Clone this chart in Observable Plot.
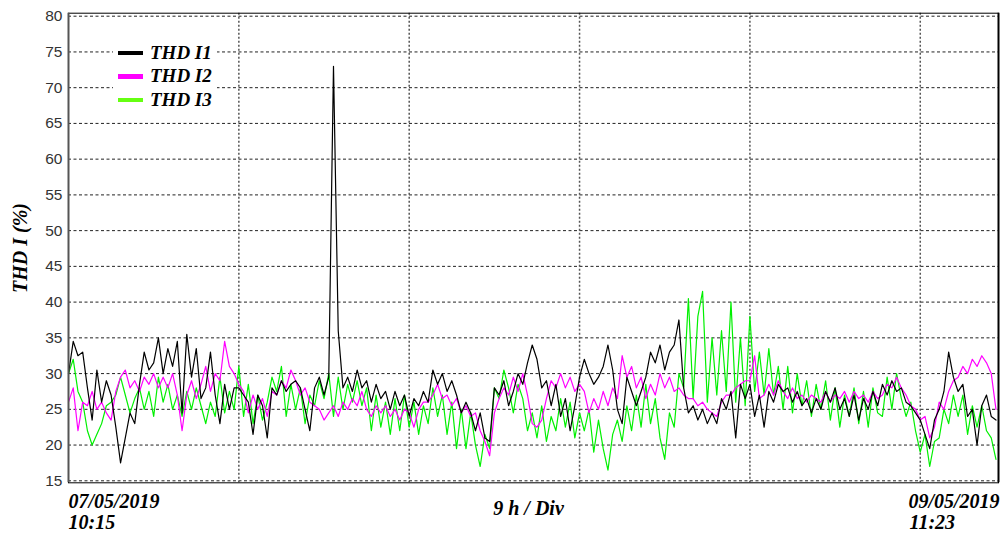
<!DOCTYPE html>
<html>
<head>
<meta charset="utf-8">
<script src="https://cdn.jsdelivr.net/npm/d3@7"></script>
<script src="https://cdn.jsdelivr.net/npm/@observablehq/plot@0.6"></script>
<style>
  html, body { margin: 0; padding: 0; background: #fff; }
  #wrap { position: relative; width: 1001px; height: 533px; }
  #legend { position: absolute; left: 113px; top: 41px; width: 104px; background: #fff; }
  #legend .row { height: 23.5px; display: flex; align-items: center; }
  #legend .sw { width: 25px; height: 4.5px; margin-left: 5px; margin-right: 7px; }
  #legend .lb { font-family: "Liberation Serif", "Times New Roman", serif; font-weight: bold; font-style: italic; font-size: 19px; color: #000; }
</style>
</head>
<body>
<div id="wrap"><div id="legend"></div></div>
<script>
// Recording: 07/05/2019 10:15 -> 09/05/2019 11:23, one sample every 15 min
const startTime = Date.UTC(2019, 4, 7, 10, 15);
const endTime = Date.UTC(2019, 4, 9, 11, 23);
const sampleMinutes = 15;
const divHours = 9;
const yTicks = [15, 20, 25, 30, 35, 40, 45, 50, 55, 60, 65, 70, 75, 80];

const seriesNames = ["THD I1", "THD I2", "THD I3"];
const seriesColors = ["#000000", "#ff00ff", "#00f000"];
const legendColors = ["#000000", "#ff00ff", "#66ff11"];

// THD I1 (%)
const thdI1 = [
  30, 34.5, 32.5, 33,   28, 23.5, 30.5, 26,   29, 27, 22.5, 17.5,   21, 24.5, 23, 28.5,
  33, 30.5, 31.5, 35,   30, 33.5, 31, 34.5,   24.5, 35.5, 29.5, 33.5,   26.5, 28, 33, 27,
  23, 28.5, 25, 28,   28, 27, 26, 21.5,   27, 25.5, 21, 28,   27, 29, 27.5, 28.5,
  29, 28, 25, 22,   28, 29.5, 27, 29.5,   73, 36, 28, 29.5,   27.5, 30.5, 28, 29,
  26, 28.5, 26.5, 27.5,   25, 27.5, 25.5, 27,   24, 26.5, 25.5, 27.5,   26, 30.5, 28.5, 30,
  27.5, 29, 27, 24.5,   26, 24.5, 22, 24.5,   21, 20.5, 28, 27,   29, 25.5, 27.5, 30,
  28.5, 31.5, 34, 32,   28, 29, 25.5, 28.5,   24, 26.5, 22, 25.5,   29.5, 32, 30, 28.5,
  29.5, 31, 34, 30.5,   25, 23, 29.5, 27.5,   25.5, 27.5, 29.5, 33,   31.5, 34, 30.5, 33,
  34, 37.5, 28, 24.5,   25.5, 23.5, 25, 23,   24.5, 23, 26.5, 25,   27.5, 21, 28.5, 26.5,
  28.5, 24, 27, 22.5,   27.5, 26, 28.5, 27.5,   28, 26, 27.5, 25.5,   26.5, 24.5, 26.5, 25,
  27.5, 26, 28, 25,   26.5, 24, 27, 23.5,   26.5, 25, 27.5, 25.5,   28.5, 27, 29, 27.5,
  28, 26, 25.5, 24.5,   23.5, 21.5, 19.5, 23.5,   25, 27.5, 33, 29.5,   27.5, 28.5, 24, 25,
  20, 25.5, 27, 24,   23.5
];

// THD I2 (%)
const thdI2 = [
  26, 28, 22, 26,   25.5, 27.5, 25, 26,   24.5, 23.5, 27.5, 29.5,   30.5, 28, 29, 27.5,
  29.5, 28.5, 30, 28,   29.5, 28, 30, 27,   22, 27, 29, 26.5,   28.5, 31, 27.5, 30,
  29, 34.5, 31, 30,   28.5, 27.5, 24.5, 27,   25, 26.5, 24, 27.5,   27, 29, 28, 30.5,
  29, 27, 28, 26,   25.5, 25, 23.5, 24.5,   25.5, 24, 26, 25,   26.5, 25.5, 27.5, 25,
  24, 25.5, 24.5, 25.5,   24, 25, 23.5, 25,   24.5, 22.5, 25, 26,   26, 27, 28.5, 26.5,
  27, 25.5, 26.5, 24.5,   25.5, 24, 24.5, 22,   20.5, 18.5, 24.5, 26.5,   28, 27, 29.5, 27.5,
  30, 27, 23, 22.5,   23.5, 26.5, 29, 28,   30, 28, 29.5, 27.5,   28.5, 27.5, 24.5, 26.5,
  25, 27.5, 25.5, 28,   26.5, 32.5, 29.5, 31,   28, 29.5, 26.5, 28.5,   27, 30, 28, 29.5,
  27.5, 28, 27, 26.5,   26.5, 25.5, 26, 25,   24.5, 24, 26, 27,   27, 28, 28.5, 29,
  29, 32.5, 26.5, 27,   28.5, 27, 29, 27.5,   26.5, 28, 26.5, 27,   26, 27, 26.5, 26,
  27.5, 26, 27, 26.5,   27.5, 26, 27.5, 26.5,   27, 26, 27.5, 26.5,   27, 28.5, 28, 29.5,
  28, 27, 25.5, 25,   23.5, 24, 21, 22.5,   26, 25, 27.5, 29,   29.5, 31, 30, 32,
  31, 32.5, 31.5, 30,   25
];

// THD I3 (%)
const thdI3 = [
  30, 32, 27.5, 26,   22, 20, 21.5, 23,   25.5, 26, 27, 29.5,   27, 24.5, 26.5, 28,
  25, 27.5, 24, 29.5,   26, 28.5, 25, 27,   24, 27.5, 25, 28,   25.5, 23, 26, 24,
  29.5, 24.5, 27.5, 25,   31, 24, 28.5, 23,   27, 23.5, 26, 29.5,   27.5, 31, 24, 28.5,
  25, 28, 23, 27,   25.5, 29, 26.5, 30,   24, 29.5, 25, 28.5,   26, 29, 25.5, 28,
  22, 27, 22.5, 26,   21.5, 26.5, 22, 27,   22.5, 26, 21.5, 25.5,   23, 28, 24, 27,
  21.5, 26, 19.5, 25,   19.5, 24.5, 20, 17,   21.5, 19.5, 28, 26.5,   30.5, 28, 24.5, 28.5,
  26.5, 22, 24.5, 21,   25.5, 20.5, 24, 22,   26.5, 22.5, 26, 21,   24.5, 22, 25, 19,
  23.5, 19.5, 16.5, 21.5,   23.5, 20.5, 25.5, 22,   27, 22.5, 28.5, 23,   26.5, 21, 18, 24.5,
  22.5, 30, 28, 40.5,   26.5, 38, 41.5, 26,   35, 27, 36, 27.5,   40, 26, 35, 25.5,
  38, 27.5, 33, 27,   33.5, 27, 31, 25,   31, 24.5, 30, 25.5,   29, 24, 28.5, 25,
  29, 23.5, 28, 22.5,   27, 24, 28, 23,   27.5, 22.5, 28, 24.5,   24, 29.5, 25, 30,
  26.5, 24, 26, 22,   19, 21.5, 17, 20.5,   21, 25, 23, 27,   24, 27, 21.5, 25.5,
  22.5, 25.5, 22, 21,   18
];

const allSeries = [thdI1, thdI2, thdI3];
const rows = [];
allSeries.forEach((vals, s) => {
  vals.forEach((v, i) => {
    rows.push({ t: new Date(startTime + i * sampleMinutes * 60000), v, s: seriesNames[s] });
  });
});

const gridTimes = d3.range(1, 6).map(k => new Date(startTime + k * divHours * 3600000));
const fmtDate = d3.utcFormat("%d/%m/%Y");
const fmtTime = d3.utcFormat("%H:%M");
const startDateLabel = [{ t: new Date(startTime), label: fmtDate(new Date(startTime)) }];
const startTimeLabel = [{ t: new Date(startTime), label: fmtTime(new Date(startTime)) }];
const endDateLabel = [{ t: new Date(endTime), label: fmtDate(new Date(endTime)) }];
const endTimeLabel = [{ t: new Date(endTime), label: fmtTime(new Date(endTime)) }];

const serif = "'Liberation Serif', 'Times New Roman', serif";
const labelStyle = { fontSize: 20, fontWeight: "bold", fontStyle: "italic", fontFamily: serif, fill: "#000" };

const lineMarks = [2, 1, 0].map(s =>
  Plot.line(rows.filter(r => r.s === seriesNames[s]), {
    x: "t", y: "v", stroke: seriesColors[s], strokeWidth: 1.2
  })
);

const chart = Plot.plot({
  width: 1001,
  height: 533,
  marginLeft: 68,
  marginRight: 3,
  marginTop: 12.7,
  marginBottom: 50.7,
  style: { background: "white", fontFamily: "'Liberation Sans', Arial, sans-serif" },
  x: { type: "utc", domain: [new Date(startTime), new Date(endTime)], axis: null },
  y: { domain: [14.72, 80.42], axis: null },
  marks: [
    Plot.ruleY(yTicks, { stroke: "#222", strokeDasharray: "3,2.5", strokeWidth: 1 }),
    Plot.ruleX(gridTimes, { stroke: "#555", strokeDasharray: "2,2", strokeWidth: 1.5 }),
    ...lineMarks,
    Plot.frame({ stroke: "#000", strokeWidth: 1 }),
    Plot.ruleX([new Date(startTime)], { stroke: "#555", strokeWidth: 2 }),
    Plot.ruleX([new Date(endTime)], { stroke: "#000", strokeWidth: 2 }),
    Plot.axisY(yTicks, { tickSize: 0, tickPadding: 6, fontSize: 15.5, fill: "#333", label: null, tickFormat: d => String(d) }),
    Plot.text(["THD I (%)"], {
      frameAnchor: "left", textAnchor: "middle", dx: -48, rotate: -90, fontSize: 20,
      fontWeight: "bold", fontStyle: "italic", fontFamily: serif, fill: "#000"
    }),
    Plot.text(startDateLabel, {
      x: "t", text: "label", frameAnchor: "bottom", textAnchor: "start",
      lineAnchor: "bottom", dy: 24.7, ...labelStyle
    }),
    Plot.text(startTimeLabel, {
      x: "t", text: "label", frameAnchor: "bottom", textAnchor: "start",
      lineAnchor: "bottom", dy: 45.7, ...labelStyle
    }),
    Plot.text(endDateLabel, {
      x: "t", text: "label", frameAnchor: "bottom", textAnchor: "end",
      lineAnchor: "bottom", dy: 24.7, dx: 1, ...labelStyle
    }),
    Plot.text(endTimeLabel, {
      x: "t", text: "label", frameAnchor: "bottom", textAnchor: "start",
      lineAnchor: "bottom", dy: 45.7, dx: -89, ...labelStyle
    }),
    Plot.text([divHours + " h / Div"], {
      frameAnchor: "bottom", lineAnchor: "bottom", dy: 32, dx: -5, ...labelStyle
    })
  ]
});

const wrap = document.getElementById("wrap");
wrap.insertBefore(chart, wrap.firstChild);

const legend = document.getElementById("legend");
seriesNames.forEach((name, i) => {
  const row = document.createElement("div");
  row.className = "row";
  const sw = document.createElement("div");
  sw.className = "sw";
  sw.style.background = legendColors[i];
  const lb = document.createElement("span");
  lb.className = "lb";
  lb.textContent = name;
  row.appendChild(sw);
  row.appendChild(lb);
  legend.appendChild(row);
});
</script>
</body>
</html>
